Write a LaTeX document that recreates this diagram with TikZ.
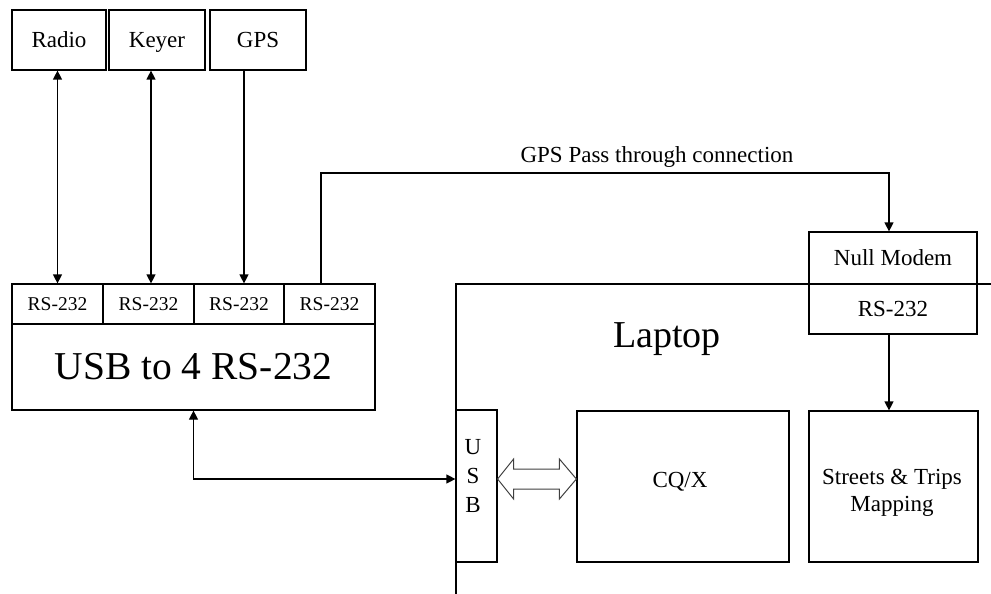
\documentclass[tikz,border=0pt]{standalone}
\usepackage{fontspec}
\setmainfont{Liberation Serif}
\usetikzlibrary{arrows.meta,calc}

\begin{document}
\begin{tikzpicture}[x=1pt,y=-1pt,
  every node/.style={font=\fontsize{23}{27}\selectfont},
  box/.style={draw,line width=1.2pt,inner sep=0pt,align=center},
  devbox/.style={box,minimum height=60pt,text height=16pt,text depth=0pt},
  portfont/.style={font=\fontsize{19.5}{23}\selectfont},
  wire/.style={line width=1.2pt},
  link/.style={wire,-{Triangle[length=9pt,width=9pt]}},
  both/.style={wire,{Triangle[length=9pt,width=9pt]}-{Triangle[length=9pt,width=9pt]}},
  fatarrow/.style={draw=black!75,line width=1pt,fill=white,line join=miter},
]
\useasboundingbox (0,0) rectangle (991,594);

% peripherals
\node[devbox,minimum width=94pt] (radio) at (59,40) {Radio};
\node[devbox,minimum width=96pt] (keyer) at (157,40) {Keyer};
\node[devbox,minimum width=96pt] (gps) at (258,40) {GPS};

% USB to serial converter
\node[box,portfont,minimum width=91pt,minimum height=40pt] (rs1) at (57.5,304) {RS-232};
\node[box,portfont,minimum width=91pt,minimum height=40pt] (rs2) at (148.5,304) {RS-232};
\node[box,portfont,minimum width=90pt,minimum height=40pt] (rs3) at (239,304) {RS-232};
\node[box,portfont,minimum width=91pt,minimum height=40pt] (rs4) at (329.5,304) {RS-232};
\node[box,minimum width=363pt,minimum height=86pt,font=\fontsize{39.5}{46}\selectfont] (usb4) at (193.5,367) {USB to 4 RS-232};

% laptop outline
\coordinate (lapR) at (991,284);
\coordinate (lapTL) at (456,284);
\coordinate (lapBL) at (456,594);
\draw[wire] (lapR) -- (lapTL) -- (lapBL);
\node[anchor=base,font=\fontsize{38}{44}\selectfont] (laptop) at (667,347) {Laptop};

% null modem and laptop serial port
\node[box,minimum width=168pt,minimum height=52pt] (nm) at (893,258) {Null Modem};
\node[box,minimum width=168pt,minimum height=50pt] (nmrs) at (893,309) {RS-232};

% laptop internals
\node[box,minimum width=41pt,minimum height=152pt] (usb) at (476.5,486) {};
\node[align=center,font=\fontsize{23}{29}\selectfont] (usbtxt) at (473,476) {U\\S\\B};
\node[box,minimum width=212pt,minimum height=151pt] (cqx) at (683,486.5) {};
\node (cqxtxt) at (680,482) {CQ/X};
\node[box,minimum width=169pt,minimum height=151pt] (maps) at (893.5,486.5) {};
\node[align=center] (mapstxt) at (892,493) {Streets \& Trips\\Mapping};

% serial links to peripherals
\draw[both] (rs1.north) -- (rs1.north |- radio.south);
\coordinate (k1) at ([xshift=2.5pt]rs2.north);
\draw[both] (k1) -- (k1 |- keyer.south);
\coordinate (g1) at ([xshift=5pt]rs3.north);
\draw[link] (g1 |- gps.south) -- (g1);

% GPS pass-through
\coordinate (ptop) at (0,173);
\coordinate (p1) at ([xshift=-8.5pt]rs4.north);
\coordinate (p2) at ([xshift=-4pt]nm.north);
\draw[link] (p1) -- (p1 |- ptop) -- (p2 |- ptop) -- (p2);
\node[anchor=base] (passlbl) at (657,162) {GPS Pass through connection};

% null modem to mapping
\coordinate (m1) at ([xshift=-4pt]nmrs.south);
\draw[link] (m1) -- (m1 |- maps.north);

% USB cable
\coordinate (crow) at (0,479);
\draw[both] (usb4.south) |- (usb.west |- crow);

% USB to CQ/X data flow
\coordinate (dl) at (usb.east |- crow);
\coordinate (dr) at (cqx.west |- crow);
\draw[fatarrow] (dl) -- ($(dl)+(16,-20)$) -- ($(dl)+(16,-10)$) -- ($(dr)+(-17,-10)$)
  -- ($(dr)+(-17,-20)$) -- (dr) -- ($(dr)+(-17,20)$) -- ($(dr)+(-17,10)$)
  -- ($(dl)+(16,10)$) -- ($(dl)+(16,20)$) -- cycle;
\end{tikzpicture}
\end{document}
